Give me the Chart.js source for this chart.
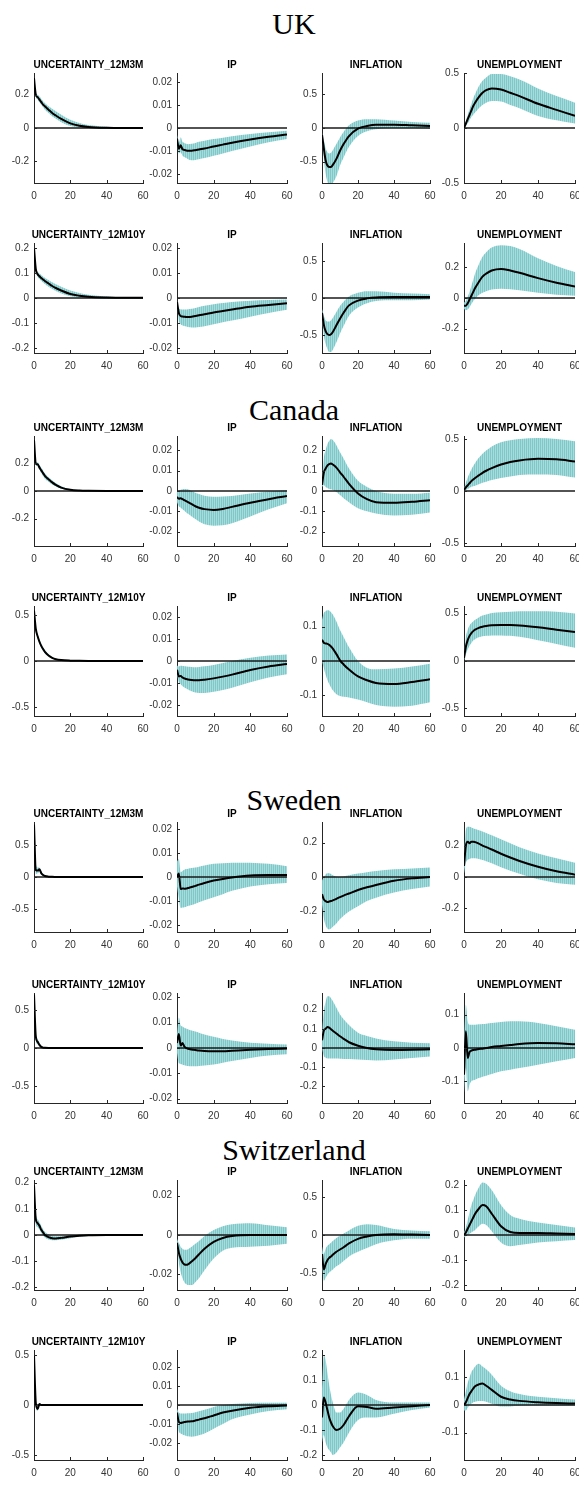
<!DOCTYPE html>
<html><head><meta charset="utf-8">
<script src="https://cdn.jsdelivr.net/npm/chart.js@4"></script>
<style>
html,body{margin:0;padding:0;background:#fff;}
body{position:relative;width:579px;height:1504px;overflow:hidden;}
canvas{position:absolute;}
.hdr{position:absolute;left:0;width:588px;text-align:center;font-family:'Liberation Serif','DejaVu Serif',serif;font-size:30px;line-height:32px;color:#000;}
</style></head><body>
<script>
// ---------------- DATA ----------------
const H = [0,1,2,3,4,5,6,8,10,12,15,20,25,30,40,50,60];
const countries = ['UK','Canada','Sweden','Switzerland'];
const uncTitles = ['UNCERTAINTY_12M3M','UNCERTAINTY_12M10Y'];
const varTitles = ['IP','INFLATION','UNEMPLOYMENT'];
const xTicks = [0,20,40,60];

// tick label sets
const T_02 = [-0.2,0,0.2];
const T_01 = [-0.2,-0.1,0,0.1,0.2];
const T_05 = [-0.5,0,0.5];
const T_IP = [-0.02,-0.01,0,0.01,0.02];
const T_IP2 = [-0.02,0,0.02];
const T_1 = [-0.1,0,0.1];

// axis limits (symmetric) per row: [U, IP, INFLATION, UNEMPLOYMENT]
const UK_3M_lim = [0.33,0.0238,0.82,0.5];
const UK_10Y_lim = [0.22,0.022,0.745,0.36];
const CA_3M_lim = [0.4,0.027,0.27,0.53];
const CA_10Y_lim = [0.6,0.025,0.16,0.58];
const SE_3M_lim = [0.86,0.023,0.32,0.35];
const SE_10Y_lim = [0.72,0.0217,0.287,0.165];
const CH_3M_lim = [0.21,0.028,0.72,0.22];
const CH_10Y_lim = [0.55,0.029,0.22,0.2];

// ---- UK, 12M3M ----
const UK_3M_U_mean = [0.30,0.20,0.185,0.17,0.155,0.14,0.13,0.11,0.09,0.075,0.055,0.028,0.013,0.006,0.001,0,0];
const UK_3M_U_hi   = [0.30,0.21,0.20,0.19,0.175,0.16,0.15,0.13,0.115,0.10,0.08,0.05,0.03,0.018,0.007,0.003,0.002];
const UK_3M_U_lo   = [0.30,0.19,0.17,0.155,0.14,0.125,0.11,0.09,0.07,0.055,0.035,0.012,0.003,0,-0.001,-0.001,-0.001];
const UK_3M_IP_mean = [-0.0045,-0.009,-0.0075,-0.0092,-0.0095,-0.0097,-0.0098,-0.0098,-0.0096,-0.0093,-0.0089,-0.0080,-0.0072,-0.0064,-0.0050,-0.0038,-0.0028];
const UK_3M_IP_hi   = [-0.003,-0.0065,-0.004,-0.006,-0.0065,-0.0068,-0.007,-0.0068,-0.0065,-0.006,-0.0055,-0.0048,-0.0042,-0.0036,-0.0026,-0.0018,-0.0012];
const UK_3M_IP_lo   = [-0.006,-0.011,-0.0105,-0.012,-0.0125,-0.013,-0.0135,-0.014,-0.0138,-0.0135,-0.013,-0.012,-0.011,-0.0100,-0.0080,-0.0062,-0.0048];
const UK_3M_INF_mean = [-0.10,-0.30,-0.48,-0.56,-0.58,-0.58,-0.55,-0.46,-0.34,-0.24,-0.12,-0.01,0.03,0.05,0.05,0.04,0.03];
const UK_3M_INF_hi   = [-0.08,-0.18,-0.30,-0.36,-0.38,-0.37,-0.33,-0.24,-0.14,-0.06,0.04,0.11,0.13,0.13,0.11,0.09,0.08];
const UK_3M_INF_lo   = [-0.12,-0.45,-0.68,-0.80,-0.85,-0.85,-0.82,-0.72,-0.56,-0.44,-0.28,-0.12,-0.05,-0.02,0.00,0.00,-0.01];
const UK_3M_UN_mean = [0.0,0.04,0.08,0.12,0.16,0.20,0.23,0.28,0.32,0.345,0.36,0.35,0.32,0.29,0.22,0.165,0.11];
const UK_3M_UN_hi   = [0.01,0.06,0.12,0.17,0.22,0.27,0.31,0.38,0.43,0.46,0.49,0.49,0.47,0.44,0.36,0.29,0.23];
const UK_3M_UN_lo   = [-0.01,0.02,0.04,0.07,0.10,0.12,0.14,0.18,0.21,0.23,0.245,0.24,0.21,0.18,0.11,0.07,0.04];

// ---- UK, 12M10Y ----
const UK_10Y_U_mean = [0.20,0.115,0.095,0.087,0.08,0.074,0.068,0.058,0.048,0.040,0.030,0.016,0.009,0.005,0.002,0.001,0.001];
const UK_10Y_U_hi   = [0.20,0.12,0.105,0.098,0.092,0.086,0.081,0.072,0.063,0.055,0.045,0.030,0.020,0.013,0.006,0.003,0.002];
const UK_10Y_U_lo   = [0.20,0.11,0.085,0.076,0.069,0.062,0.056,0.045,0.036,0.028,0.018,0.007,0.002,0.000,-0.001,-0.001,-0.001];
const UK_10Y_IP_mean = [-0.0015,-0.006,-0.0072,-0.0074,-0.0075,-0.0076,-0.0076,-0.0075,-0.0072,-0.0069,-0.0065,-0.0058,-0.0052,-0.0046,-0.0035,-0.0028,-0.0021];
const UK_10Y_IP_hi   = [-0.001,-0.004,-0.0045,-0.0046,-0.0046,-0.0046,-0.0045,-0.0043,-0.0040,-0.0036,-0.0031,-0.0025,-0.0020,-0.0016,-0.0011,-0.0008,-0.0006];
const UK_10Y_IP_lo   = [-0.002,-0.009,-0.0105,-0.011,-0.0112,-0.0114,-0.0116,-0.0118,-0.0118,-0.0116,-0.0113,-0.0105,-0.0097,-0.0090,-0.0075,-0.0060,-0.0047];
const UK_10Y_INF_mean = [-0.20,-0.36,-0.45,-0.49,-0.50,-0.49,-0.46,-0.37,-0.28,-0.20,-0.10,-0.035,-0.005,0.008,0.012,0.012,0.012];
const UK_10Y_INF_hi   = [-0.15,-0.24,-0.30,-0.32,-0.32,-0.30,-0.27,-0.19,-0.11,-0.05,0.02,0.07,0.09,0.09,0.07,0.06,0.05];
const UK_10Y_INF_lo   = [-0.25,-0.50,-0.62,-0.69,-0.73,-0.73,-0.70,-0.60,-0.48,-0.38,-0.24,-0.13,-0.07,-0.04,-0.03,-0.03,-0.02];
const UK_10Y_UN_mean = [-0.05,-0.05,-0.035,-0.01,0.015,0.04,0.065,0.105,0.14,0.16,0.18,0.19,0.18,0.165,0.13,0.10,0.075];
const UK_10Y_UN_hi   = [-0.03,-0.02,0.01,0.04,0.08,0.12,0.16,0.22,0.27,0.30,0.33,0.345,0.34,0.32,0.26,0.21,0.17];
const UK_10Y_UN_lo   = [-0.07,-0.08,-0.075,-0.06,-0.04,-0.02,-0.005,0.02,0.035,0.045,0.055,0.06,0.057,0.05,0.035,0.022,0.015];

// ---- Canada, 12M3M ----
const CA_3M_U_mean = [0.37,0.20,0.195,0.17,0.15,0.13,0.11,0.085,0.063,0.045,0.025,0.009,0.003,0.001,0,0,0];
const CA_3M_U_hi   = [0.37,0.21,0.21,0.19,0.17,0.15,0.13,0.10,0.078,0.058,0.035,0.015,0.006,0.003,0.001,0.001,0.001];
const CA_3M_U_lo   = [0.37,0.19,0.18,0.155,0.13,0.11,0.09,0.068,0.048,0.033,0.016,0.004,0.000,-0.001,-0.001,-0.001,-0.001];
const CA_3M_IP_mean = [-0.003,-0.0038,-0.0036,-0.004,-0.0045,-0.005,-0.0055,-0.0065,-0.0075,-0.0082,-0.0089,-0.0093,-0.0088,-0.0078,-0.0058,-0.0040,-0.0025];
const CA_3M_IP_hi   = [-0.0005,0.0002,0.0006,0.0009,0.001,0.001,0.0008,0.0,-0.0008,-0.0015,-0.0023,-0.0028,-0.0027,-0.0024,-0.0012,-0.0002,0.0005];
const CA_3M_IP_lo   = [-0.0055,-0.0075,-0.0082,-0.009,-0.0097,-0.0105,-0.0112,-0.0125,-0.0138,-0.0150,-0.0163,-0.0170,-0.0168,-0.0158,-0.0125,-0.0090,-0.0060];
const CA_3M_INF_mean = [0.03,0.09,0.11,0.125,0.132,0.135,0.13,0.115,0.092,0.07,0.035,-0.012,-0.04,-0.055,-0.058,-0.053,-0.045];
const CA_3M_INF_hi   = [0.04,0.16,0.20,0.23,0.245,0.255,0.25,0.225,0.19,0.16,0.11,0.05,0.02,0.0,-0.013,-0.013,-0.008];
const CA_3M_INF_lo   = [0.02,0.03,0.02,0.015,0.01,0.008,0.005,-0.005,-0.02,-0.035,-0.055,-0.085,-0.10,-0.11,-0.12,-0.117,-0.105];
const CA_3M_UN_mean = [0.01,0.035,0.055,0.075,0.095,0.11,0.125,0.15,0.175,0.195,0.22,0.255,0.28,0.295,0.31,0.305,0.285];
const CA_3M_UN_hi   = [0.02,0.08,0.13,0.17,0.21,0.24,0.27,0.32,0.36,0.39,0.43,0.47,0.49,0.50,0.51,0.50,0.48];
const CA_3M_UN_lo   = [0.0,0.01,0.02,0.03,0.04,0.045,0.05,0.065,0.08,0.09,0.105,0.125,0.14,0.155,0.16,0.155,0.13];

// ---- Canada, 12M10Y ----
const CA_10Y_U_mean = [0.55,0.35,0.27,0.21,0.165,0.13,0.10,0.06,0.035,0.02,0.01,0.004,0.002,0.001,0,0,0];
const CA_10Y_U_hi   = [0.55,0.37,0.29,0.235,0.19,0.15,0.12,0.075,0.045,0.028,0.015,0.006,0.003,0.002,0.001,0.001,0.001];
const CA_10Y_U_lo   = [0.55,0.33,0.25,0.19,0.145,0.11,0.085,0.048,0.027,0.014,0.006,0.002,0.001,0,0,0,0];
const CA_10Y_IP_mean = [-0.004,-0.007,-0.0068,-0.0075,-0.0079,-0.0082,-0.0084,-0.0086,-0.0087,-0.0087,-0.0085,-0.0079,-0.0071,-0.0062,-0.0041,-0.0025,-0.0014];
const CA_10Y_IP_hi   = [-0.002,-0.0025,-0.0022,-0.0023,-0.0024,-0.0025,-0.0026,-0.0027,-0.0028,-0.0027,-0.0024,-0.0018,-0.0009,0.0,0.0015,0.0025,0.003];
const CA_10Y_IP_lo   = [-0.006,-0.0095,-0.0105,-0.0115,-0.012,-0.0125,-0.013,-0.0138,-0.0143,-0.0145,-0.0145,-0.014,-0.0132,-0.0122,-0.0097,-0.0075,-0.006];
const CA_10Y_INF_mean = [0.062,0.053,0.051,0.05,0.047,0.042,0.036,0.02,0.002,-0.01,-0.025,-0.045,-0.056,-0.064,-0.067,-0.061,-0.053];
const CA_10Y_INF_hi   = [0.12,0.14,0.145,0.148,0.147,0.142,0.135,0.115,0.09,0.07,0.04,0.0,-0.02,-0.024,-0.022,-0.016,-0.008];
const CA_10Y_INF_lo   = [0.0,-0.02,-0.04,-0.055,-0.067,-0.077,-0.085,-0.097,-0.102,-0.104,-0.106,-0.112,-0.12,-0.128,-0.133,-0.13,-0.12];
const CA_10Y_UN_mean = [0.03,0.15,0.22,0.265,0.295,0.315,0.33,0.35,0.362,0.37,0.377,0.38,0.379,0.375,0.356,0.33,0.305];
const CA_10Y_UN_hi   = [0.05,0.25,0.33,0.375,0.40,0.42,0.435,0.46,0.48,0.49,0.505,0.515,0.52,0.525,0.525,0.52,0.50];
const CA_10Y_UN_lo   = [0.01,0.07,0.12,0.16,0.19,0.215,0.23,0.25,0.26,0.265,0.27,0.27,0.265,0.255,0.22,0.18,0.14];

// ---- Sweden, 12M3M ----
const SE_3M_U_mean = [0.82,0.11,0.10,0.12,0.06,0.03,0.015,0.005,0.002,0.001,0,0,0,0,0,0,0];
const SE_3M_U_hi   = [0.82,0.20,0.15,0.15,0.09,0.05,0.03,0.012,0.006,0.003,0.001,0.001,0,0,0,0,0];
const SE_3M_U_lo   = [0.82,0.05,0.06,0.08,0.035,0.015,0.005,0.0,-0.001,-0.001,-0.001,0,0,0,0,0,0];
const SE_3M_IP_mean = [0.0,0.0015,-0.005,-0.0048,-0.0049,-0.0048,-0.0046,-0.0042,-0.0037,-0.0032,-0.0025,-0.0015,-0.0008,-0.0002,0.0006,0.0008,0.0008];
const SE_3M_IP_hi   = [0.0065,0.0075,0.002,0.0025,0.003,0.0033,0.0035,0.0038,0.004,0.0043,0.0048,0.0055,0.0058,0.006,0.006,0.0055,0.0045];
const SE_3M_IP_lo   = [-0.004,-0.009,-0.013,-0.0128,-0.0126,-0.0124,-0.0121,-0.0117,-0.0112,-0.0106,-0.0097,-0.0085,-0.0072,-0.0058,-0.004,-0.003,-0.0025];
const SE_3M_INF_mean = [-0.10,-0.13,-0.14,-0.145,-0.143,-0.14,-0.136,-0.127,-0.117,-0.108,-0.096,-0.076,-0.06,-0.046,-0.022,-0.008,0.0];
const SE_3M_INF_hi   = [-0.02,0.0,0.015,0.022,0.022,0.018,0.01,0.002,0.0,0.003,0.01,0.02,0.028,0.035,0.045,0.05,0.055];
const SE_3M_INF_lo   = [-0.16,-0.24,-0.28,-0.30,-0.305,-0.30,-0.29,-0.27,-0.245,-0.225,-0.20,-0.17,-0.14,-0.12,-0.09,-0.07,-0.055];
const SE_3M_UN_mean = [0.07,0.20,0.225,0.215,0.225,0.225,0.222,0.212,0.20,0.19,0.175,0.148,0.124,0.102,0.065,0.036,0.015];
const SE_3M_UN_hi   = [0.12,0.30,0.32,0.32,0.315,0.31,0.305,0.298,0.29,0.28,0.265,0.24,0.215,0.19,0.15,0.12,0.09];
const SE_3M_UN_lo   = [0.02,0.09,0.11,0.115,0.12,0.12,0.12,0.115,0.108,0.10,0.088,0.062,0.04,0.02,-0.015,-0.038,-0.05];

// ---- Sweden, 12M10Y ----
const SE_10Y_U_mean = [0.70,0.15,0.08,0.04,0.015,0.005,0.002,0,0,0,0,0,0,0,0,0,0];
const SE_10Y_U_hi   = [0.70,0.20,0.12,0.07,0.03,0.012,0.005,0.001,0,0,0,0,0,0,0,0,0];
const SE_10Y_U_lo   = [0.70,0.10,0.05,0.02,0.005,0,0,0,0,0,0,0,0,0,0,0,0];
const SE_10Y_IP_mean = [0.002,0.0055,0.001,0.002,0.0006,0.0,-0.0003,-0.0006,-0.0008,-0.001,-0.0012,-0.0013,-0.0013,-0.0011,-0.0007,-0.0004,-0.0002];
const SE_10Y_IP_hi   = [0.005,0.012,0.009,0.0085,0.008,0.0077,0.0074,0.0069,0.0065,0.006,0.0053,0.0044,0.0036,0.003,0.0021,0.0017,0.0014];
const SE_10Y_IP_lo   = [-0.002,-0.006,-0.0063,-0.0066,-0.0068,-0.007,-0.0071,-0.0072,-0.0072,-0.0071,-0.0069,-0.0065,-0.0058,-0.0051,-0.0039,-0.003,-0.0025];
const SE_10Y_INF_mean = [0.04,0.09,0.10,0.11,0.106,0.098,0.09,0.076,0.061,0.048,0.03,0.012,0.0,-0.006,-0.01,-0.009,-0.007];
const SE_10Y_INF_hi   = [0.07,0.19,0.24,0.27,0.27,0.26,0.245,0.21,0.175,0.15,0.12,0.08,0.063,0.05,0.035,0.028,0.025];
const SE_10Y_INF_lo   = [0.0,-0.04,-0.05,-0.055,-0.055,-0.055,-0.055,-0.055,-0.056,-0.057,-0.058,-0.06,-0.063,-0.065,-0.06,-0.052,-0.045];
const SE_10Y_UN_mean = [-0.08,0.05,-0.03,-0.012,-0.008,-0.006,-0.005,-0.003,-0.002,0.0,0.003,0.006,0.009,0.012,0.015,0.014,0.011];
const SE_10Y_UN_hi   = [0.0,0.13,0.08,0.07,0.07,0.07,0.07,0.071,0.072,0.073,0.075,0.078,0.08,0.08,0.075,0.065,0.055];
const SE_10Y_UN_lo   = [-0.14,-0.06,-0.13,-0.11,-0.1,-0.097,-0.095,-0.09,-0.086,-0.083,-0.078,-0.07,-0.065,-0.06,-0.05,-0.04,-0.03];

// ---- Switzerland, 12M3M ----
const CH_3M_U_mean = [0.19,0.06,0.045,0.035,0.02,0.01,0.0,-0.008,-0.012,-0.013,-0.011,-0.006,-0.003,-0.001,0,0,0];
const CH_3M_U_hi   = [0.19,0.08,0.06,0.05,0.035,0.022,0.012,0.002,-0.003,-0.005,-0.004,-0.001,0.001,0.002,0.001,0.001,0.001];
const CH_3M_U_lo   = [0.19,0.04,0.03,0.02,0.008,-0.002,-0.01,-0.017,-0.02,-0.02,-0.018,-0.012,-0.007,-0.004,-0.002,-0.001,-0.001];
const CH_3M_IP_mean = [-0.004,-0.009,-0.012,-0.014,-0.015,-0.0152,-0.015,-0.0135,-0.0118,-0.0098,-0.007,-0.0035,-0.0015,-0.0005,0.0,0.0,0.0];
const CH_3M_IP_hi   = [-0.002,-0.004,-0.006,-0.007,-0.0075,-0.0075,-0.0072,-0.006,-0.0045,-0.003,-0.0005,0.0025,0.0045,0.0055,0.006,0.005,0.004];
const CH_3M_IP_lo   = [-0.006,-0.014,-0.019,-0.022,-0.024,-0.025,-0.0255,-0.0255,-0.024,-0.022,-0.018,-0.012,-0.008,-0.0065,-0.006,-0.0055,-0.0045];
const CH_3M_INF_mean = [-0.25,-0.45,-0.38,-0.33,-0.3,-0.28,-0.26,-0.22,-0.19,-0.16,-0.11,-0.05,-0.02,0.0,0.01,0.005,0.0];
const CH_3M_INF_hi   = [-0.15,-0.25,-0.18,-0.14,-0.12,-0.1,-0.08,-0.04,-0.01,0.02,0.06,0.12,0.14,0.13,0.08,0.06,0.05];
const CH_3M_INF_lo   = [-0.35,-0.6,-0.56,-0.52,-0.49,-0.47,-0.45,-0.41,-0.38,-0.34,-0.28,-0.22,-0.17,-0.12,-0.07,-0.05,-0.05];
const CH_3M_UN_mean = [0.0,0.01,0.025,0.04,0.055,0.07,0.085,0.105,0.12,0.115,0.085,0.035,0.012,0.008,0.008,0.006,0.004];
const CH_3M_UN_hi   = [0.01,0.03,0.06,0.09,0.12,0.14,0.16,0.19,0.21,0.205,0.18,0.12,0.08,0.065,0.05,0.04,0.03];
const CH_3M_UN_lo   = [-0.01,-0.005,0.0,0.005,0.01,0.015,0.02,0.035,0.045,0.04,0.015,-0.03,-0.045,-0.04,-0.03,-0.025,-0.02];

// ---- Switzerland, 12M10Y ----
const CH_10Y_U_mean = [0.5,0.02,-0.04,0.01,0.0,0,0,0,0,0,0,0,0,0,0,0,0];
const CH_10Y_U_hi   = [0.5,0.04,-0.02,0.02,0.005,0.002,0,0,0,0,0,0,0,0,0,0,0];
const CH_10Y_U_lo   = [0.5,0.0,-0.06,0.0,-0.005,-0.002,0,0,0,0,0,0,0,0,0,0,0];
const CH_10Y_IP_mean = [-0.004,-0.009,-0.0095,-0.0092,-0.009,-0.0088,-0.0087,-0.0086,-0.0082,-0.0077,-0.007,-0.0055,-0.004,-0.003,-0.0015,-0.0007,-0.0003];
const CH_10Y_IP_hi   = [-0.002,-0.004,-0.0045,-0.0045,-0.0045,-0.0045,-0.0044,-0.0042,-0.0038,-0.0033,-0.0025,-0.001,0.0,0.0005,0.001,0.0012,0.0012];
const CH_10Y_IP_lo   = [-0.006,-0.014,-0.015,-0.0155,-0.016,-0.0163,-0.0165,-0.0167,-0.0165,-0.016,-0.015,-0.0125,-0.01,-0.0075,-0.005,-0.0032,-0.0022];
const CH_10Y_INF_mean = [-0.05,0.03,0.01,-0.02,-0.05,-0.07,-0.085,-0.1,-0.095,-0.08,-0.045,-0.005,-0.008,-0.015,-0.01,-0.005,0.0];
const CH_10Y_INF_hi   = [0.05,0.2,0.18,0.13,0.08,0.04,0.01,-0.03,-0.03,-0.015,0.02,0.05,0.04,0.02,0.01,0.01,0.01];
const CH_10Y_INF_lo   = [-0.15,-0.12,-0.15,-0.17,-0.18,-0.19,-0.2,-0.19,-0.17,-0.15,-0.11,-0.06,-0.05,-0.05,-0.035,-0.02,-0.01];
const CH_10Y_UN_mean = [0.0,0.01,0.025,0.04,0.05,0.06,0.068,0.075,0.078,0.07,0.055,0.03,0.02,0.015,0.01,0.007,0.005];
const CH_10Y_UN_hi   = [0.02,0.05,0.08,0.1,0.12,0.13,0.14,0.15,0.14,0.13,0.11,0.07,0.05,0.04,0.03,0.025,0.02];
const CH_10Y_UN_lo   = [-0.02,-0.02,-0.01,0.0,0.005,0.01,0.012,0.015,0.015,0.012,0.005,-0.005,-0.005,-0.003,-0.002,-0.002,-0.002];

// -------------- assemble rows (references to the arrays above) --------------
const rows = [
  {unc:0, lim:UK_3M_lim, ticks:[T_02,T_IP,T_05,T_05], s:[[UK_3M_U_mean,UK_3M_U_hi,UK_3M_U_lo],[UK_3M_IP_mean,UK_3M_IP_hi,UK_3M_IP_lo],[UK_3M_INF_mean,UK_3M_INF_hi,UK_3M_INF_lo],[UK_3M_UN_mean,UK_3M_UN_hi,UK_3M_UN_lo]]},
  {unc:1, lim:UK_10Y_lim, ticks:[T_01,T_IP,T_05,T_02], s:[[UK_10Y_U_mean,UK_10Y_U_hi,UK_10Y_U_lo],[UK_10Y_IP_mean,UK_10Y_IP_hi,UK_10Y_IP_lo],[UK_10Y_INF_mean,UK_10Y_INF_hi,UK_10Y_INF_lo],[UK_10Y_UN_mean,UK_10Y_UN_hi,UK_10Y_UN_lo]]},
  {unc:0, lim:CA_3M_lim, ticks:[T_02,T_IP,T_01,T_05], s:[[CA_3M_U_mean,CA_3M_U_hi,CA_3M_U_lo],[CA_3M_IP_mean,CA_3M_IP_hi,CA_3M_IP_lo],[CA_3M_INF_mean,CA_3M_INF_hi,CA_3M_INF_lo],[CA_3M_UN_mean,CA_3M_UN_hi,CA_3M_UN_lo]]},
  {unc:1, lim:CA_10Y_lim, ticks:[T_05,T_IP,T_1,T_05], s:[[CA_10Y_U_mean,CA_10Y_U_hi,CA_10Y_U_lo],[CA_10Y_IP_mean,CA_10Y_IP_hi,CA_10Y_IP_lo],[CA_10Y_INF_mean,CA_10Y_INF_hi,CA_10Y_INF_lo],[CA_10Y_UN_mean,CA_10Y_UN_hi,CA_10Y_UN_lo]]},
  {unc:0, lim:SE_3M_lim, ticks:[T_05,T_IP,T_02,T_02], s:[[SE_3M_U_mean,SE_3M_U_hi,SE_3M_U_lo],[SE_3M_IP_mean,SE_3M_IP_hi,SE_3M_IP_lo],[SE_3M_INF_mean,SE_3M_INF_hi,SE_3M_INF_lo],[SE_3M_UN_mean,SE_3M_UN_hi,SE_3M_UN_lo]]},
  {unc:1, lim:SE_10Y_lim, ticks:[T_05,T_IP,T_01,T_1], s:[[SE_10Y_U_mean,SE_10Y_U_hi,SE_10Y_U_lo],[SE_10Y_IP_mean,SE_10Y_IP_hi,SE_10Y_IP_lo],[SE_10Y_INF_mean,SE_10Y_INF_hi,SE_10Y_INF_lo],[SE_10Y_UN_mean,SE_10Y_UN_hi,SE_10Y_UN_lo]]},
  {unc:0, lim:CH_3M_lim, ticks:[T_01,T_IP2,T_05,T_01], s:[[CH_3M_U_mean,CH_3M_U_hi,CH_3M_U_lo],[CH_3M_IP_mean,CH_3M_IP_hi,CH_3M_IP_lo],[CH_3M_INF_mean,CH_3M_INF_hi,CH_3M_INF_lo],[CH_3M_UN_mean,CH_3M_UN_hi,CH_3M_UN_lo]]},
  {unc:1, lim:CH_10Y_lim, ticks:[T_05,T_IP,T_01,T_1], s:[[CH_10Y_U_mean,CH_10Y_U_hi,CH_10Y_U_lo],[CH_10Y_IP_mean,CH_10Y_IP_hi,CH_10Y_IP_lo],[CH_10Y_INF_mean,CH_10Y_INF_hi,CH_10Y_INF_lo],[CH_10Y_UN_mean,CH_10Y_UN_hi,CH_10Y_UN_lo]]}
];

// ---------------- LAYOUT ----------------
const colLeft = [34,177,322,464];
const colW = [109,110,108,111];
const rowTop = [73,243,436,606,822,993,1180,1350];
const plotH = 110;
const hdrTop = [8,394,784,1134];
const AXW = 40, TOPPAD = 18, XAXH = 24, RPAD = 6;

countries.forEach((c,i)=>{
  const d=document.createElement('div'); d.className='hdr'; d.style.top=hdrTop[i]+'px'; d.textContent=c; document.body.appendChild(d);
});

const panelDecor = {
  id:'panelDecor',
  afterDraw(chart, args, opts){
    const {ctx, chartArea:a, scales:{x,y}} = chart;
    ctx.save();
    ctx.strokeStyle='#262626'; ctx.lineWidth=1;
    ctx.beginPath();
    y.ticks.forEach(t=>{const py=Math.round(y.getPixelForValue(t.value))+0.5; ctx.moveTo(a.left,py); ctx.lineTo(a.left+3,py);});
    x.ticks.forEach(t=>{const px=Math.round(x.getPixelForValue(t.value))+0.5; ctx.moveTo(px,a.bottom); ctx.lineTo(px,a.bottom-3);});
    ctx.stroke();
    ctx.fillStyle='#000';
    ctx.font='bold 10px "Liberation Sans", Arial, sans-serif';
    ctx.textAlign='center'; ctx.textBaseline='middle';
    ctx.fillText(opts.title,(a.left+a.right)/2,a.top-8);
    ctx.restore();
  }
};

function stripe(ctx){
  const c=document.createElement('canvas'); c.width=2; c.height=4;
  const g=c.getContext('2d');
  g.fillStyle='rgb(126,200,201)'; g.fillRect(0,0,1,4);
  g.fillStyle='rgb(168,220,220)'; g.fillRect(1,0,1,4);
  return ctx.createPattern(c,'repeat');
}
const pts = arr => arr.map((v,i)=>({x:H[i],y:v}));
const fmt = v => { const r = +v.toFixed(4); return r===0 ? '0' : String(r); };

rows.forEach((row,r)=>{
  for(let c=0;c<4;c++){
    const cv=document.createElement('canvas');
    const W=AXW+colW[c]+RPAD, Hh=TOPPAD+plotH+XAXH;
    cv.width=W; cv.height=Hh;
    cv.style.left=(colLeft[c]-AXW)+'px'; cv.style.top=(rowTop[r]-TOPPAD)+'px';
    cv.style.width=W+'px'; cv.style.height=Hh+'px';
    document.body.appendChild(cv);
    const ctx=cv.getContext('2d');
    const [m,hi,lo]=row.s[c];
    const lim=row.lim[c], tk=row.ticks[c];
    const title = c===0 ? uncTitles[row.unc] : varTitles[c-1];
    new Chart(ctx,{
      type:'line',
      data:{datasets:[
        {data:pts(m),borderColor:'#000',borderWidth:2,pointRadius:0,cubicInterpolationMode:'monotone',fill:false},
        {data:[{x:0,y:0},{x:60,y:0}],borderColor:'#1a1a1a',borderWidth:1.3,pointRadius:0,fill:false},
        {data:pts(lo),borderWidth:0,borderColor:'rgba(0,0,0,0)',pointRadius:0,cubicInterpolationMode:'monotone',fill:false},
        {data:pts(hi),borderWidth:0,borderColor:'rgba(0,0,0,0)',pointRadius:0,cubicInterpolationMode:'monotone',fill:'-1',backgroundColor:stripe(ctx)}
      ]},
      options:{
        responsive:false, animation:false, devicePixelRatio:1,
        layout:{padding:{left:0,right:RPAD,top:TOPPAD,bottom:0}},
        plugins:{legend:{display:false},tooltip:{enabled:false},title:{display:false},panelDecor:{title}},
        scales:{
          x:{type:'linear',min:0,max:60,
             afterBuildTicks:s=>{s.ticks=xTicks.map(v=>({value:v}));},
             afterFit:s=>{s.height=XAXH; s.paddingLeft=0; s.paddingRight=0;},
             grid:{display:false,drawTicks:false},
             border:{display:true,color:'#262626',width:1},
             ticks:{padding:7,color:'#333',font:{family:'"Liberation Sans", Arial, sans-serif',size:10},maxRotation:0,autoSkip:false}},
          y:{type:'linear',min:-lim,max:lim,
             afterBuildTicks:s=>{s.ticks=tk.map(v=>({value:v}));},
             afterFit:s=>{s.width=AXW; s.paddingTop=0; s.paddingBottom=0;},
             grid:{display:false,drawTicks:false},
             border:{display:true,color:'#262626',width:1},
             ticks:{padding:5,color:'#333',font:{family:'"Liberation Sans", Arial, sans-serif',size:10},callback:v=>fmt(v),autoSkip:false}}
        }
      },
      plugins:[panelDecor]
    });
  }
});
</script>
</body></html>
